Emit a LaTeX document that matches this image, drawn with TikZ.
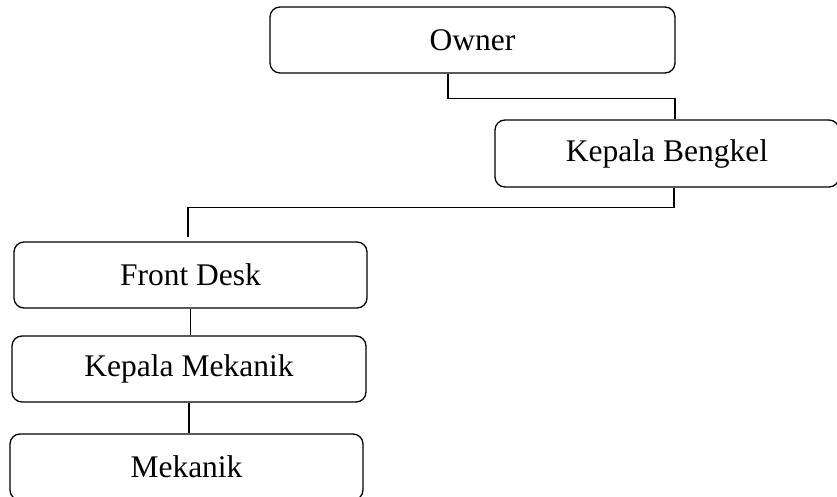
\documentclass[tikz,border=0pt]{standalone}
\usepackage{fontspec}
\setmainfont{Liberation Serif}
\usepackage{tikz}
\usetikzlibrary{positioning,calc}

\begin{document}
\begin{tikzpicture}[x=1pt, y=-1pt, line width=1.3pt,
		jabatan/.style={draw, rounded corners=10pt, minimum height=66pt, inner sep=0pt,
			font=\fontsize{31.5}{38}\selectfont}]
			%\draw[step=50pt,gray,very thin] (0,0) grid (837,497);
			\useasboundingbox (0,0) rectangle (837,497);
			\node[jabatan, minimum width=405pt] (owner) at (472.5,40) {Owner};
			\node[jabatan, minimum width=344pt, minimum height=67pt] (kabeng) at (667,153.5) {Kepala Bengkel};
			\node[jabatan, minimum width=353pt] (frontdesk) at (190.5,275) {Front Desk};
			\node[jabatan, minimum width=354pt] (kamek) at (189,369) {Kepala Mekanik};
			\node[jabatan, minimum width=353pt] (mekanik) at (186.5,467) {Mekanik};
			\draw[-] ([xshift=-24.5pt]owner.south) -- ++(0,24.7) -| ([xshift=8pt]kabeng.north);
			\draw[-] ([xshift=7pt]kabeng.south) -- ++(0,19.5) -| ([xshift=-2.5pt,yshift=4pt]frontdesk.north);
			\draw[-] (frontdesk.south) -- (frontdesk.south |- kamek.north);
			\draw[-] (kamek.south) -- (kamek.south |- mekanik.north);
		\end{tikzpicture}
\end{document}
